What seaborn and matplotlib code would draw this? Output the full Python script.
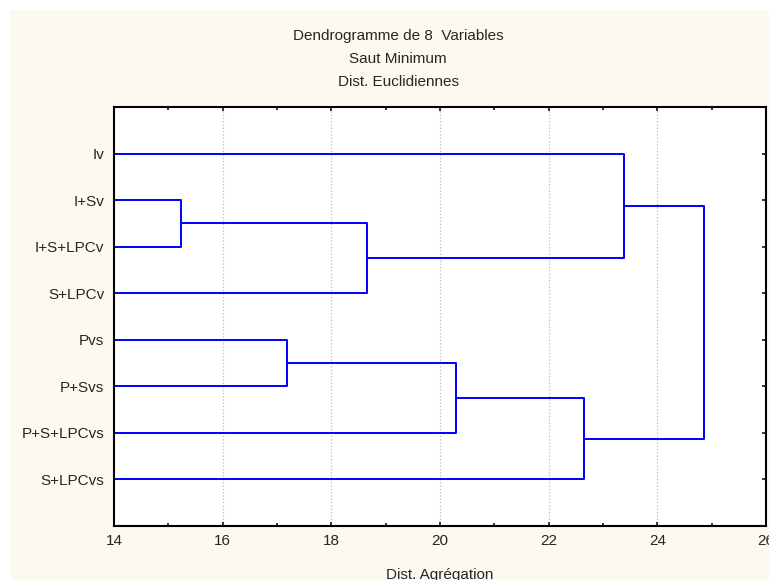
import numpy as np
import pandas as pd
import seaborn as sns
from matplotlib import pyplot as plt
from matplotlib.patches import Rectangle

# feuilles du dendrogramme (ordre de haut en bas)
feuilles = ['Iv', 'I+Sv', 'I+S+LPCv', 'S+LPCv', 'Pvs', 'P+Svs', 'P+S+LPCvs', 'S+LPCvs']
# fusions : (enfant gauche, enfant droit, distance d'agrégation)
fusions_gauche = ['I+Sv', 'A', 'Iv', 'Pvs', 'D', 'E', 'C']
fusions_droite = ['I+S+LPCv', 'S+LPCv', 'B', 'P+Svs', 'P+S+LPCvs', 'S+LPCvs', 'F']
fusions_noms = ['A', 'B', 'C', 'D', 'E', 'F', 'G']
fusions_dist = [15.23, 18.65, 23.38, 17.18, 20.30, 22.65, 24.85]

x_ticks = [14, 16, 18, 20, 22, 24, 26]

sns.set_style('white')
plt.rcParams['font.family'] = ['Liberation Sans', 'DejaVu Sans']

# positions des noeuds
pos = {f: i + 1 for i, f in enumerate(feuilles)}
haut = {f: 14.0 for f in feuilles}
rows = []
for g, d, nom, h in zip(fusions_gauche, fusions_droite, fusions_noms, fusions_dist):
    xs = [haut[g], h, h, haut[d]]
    ys = [pos[g], pos[g], pos[d], pos[d]]
    for o, (xx, yy) in enumerate(zip(xs, ys)):
        rows.append({'seg': nom, 'ordre': o, 'x': xx, 'y': yy})
    pos[nom] = (pos[g] + pos[d]) / 2
    haut[nom] = h
df = pd.DataFrame(rows)

fig = plt.figure(figsize=(7.69, 5.80), dpi=100)
fig.patches.append(Rectangle((10 / 769, 0), 1, 1 - 10 / 580, transform=fig.transFigure,
                             facecolor='#fdf9f0', edgecolor='none', zorder=-10))
ax = fig.add_axes([114 / 769, 1 - 526 / 580, (766 - 114) / 769, (526 - 107) / 580])
ax.set_facecolor('white')

sns.lineplot(data=df, x='x', y='y', units='seg', estimator=None, sort=False,
             color='#0000ff', lw=1.4, legend=False, ax=ax)

ax.set_xlim(14, 26)
ax.set_ylim(9, 0)
ax.set_xticks(x_ticks)
ax.set_xticks(np.arange(15, 26, 2), minor=True)
ax.set_yticks(range(1, 9))
ax.set_yticklabels(feuilles)
for t in x_ticks[1:-1]:
    ax.axvline(t, color='#bbbbbb', ls=':', lw=0.9, zorder=0)

ax.tick_params(axis='x', which='both', direction='in', top=True, bottom=True,
               labelsize=11, pad=6, width=1.3)
ax.tick_params(axis='x', which='major', length=3)
ax.tick_params(axis='x', which='minor', length=2)
ax.tick_params(axis='y', direction='in', left=True, right=True, length=3,
               width=1.3, labelsize=11, pad=7)
for s in ax.spines.values():
    s.set_color('black')
    s.set_linewidth(1.5)

ax.set_xlabel('Dist. Agrégation', fontsize=11, labelpad=14)
ax.set_ylabel('')

fig.text(398 / 769, 1 - 36 / 580, 'Dendrogramme de 8  Variables', ha='center', va='center', fontsize=11)
fig.text(398 / 769, 1 - 59 / 580, 'Saut Minimum', ha='center', va='center', fontsize=11)
fig.text(398 / 769, 1 - 82 / 580, 'Dist. Euclidiennes', ha='center', va='center', fontsize=11)

fig.savefig('out.png', dpi=100)
